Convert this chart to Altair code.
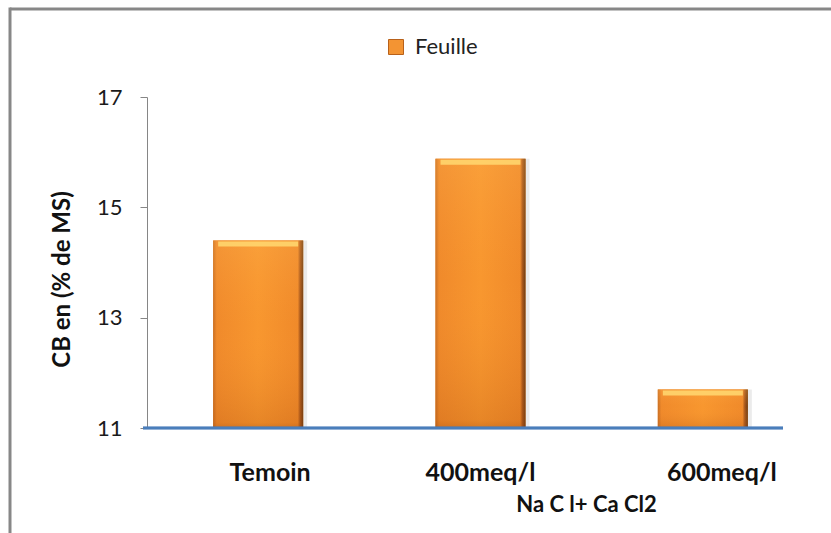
import altair as alt
import pandas as pd

# Crude fibre content of leaves under NaCl + CaCl2 treatments
categories = ["Temoin", "400meq/l", "600meq/l"]
feuille = [14.4, 15.88, 11.7]
y_ticks = [11, 13, 15, 17]
series_name = "Feuille"
y_title = "CB en (% de MS)"
x_title = "Na C l+ Ca Cl2"

df = pd.DataFrame({
    "traitement": categories,
    "cb": feuille,
    "organe": [series_name] * len(categories),
})

FONT = "Lato"

x_enc = alt.X(
    "traitement:N",
    sort=categories,
    scale=alt.Scale(paddingInner=0.595, paddingOuter=0.2975),
    axis=alt.Axis(
        title=x_title,
        domain=False,
        ticks=False,
        labelAngle=0,
        labelFont=FONT,
        labelFontSize=25,
        labelFontWeight="bold",
        labelColor="#111111",
        labelPadding=32,
        labelOffset={
            "condition": [
                {"test": "datum.value === 'Temoin'", "value": 12},
                {"test": "datum.value === '600meq/l'", "value": 19},
            ],
            "value": 0,
        },
        titleFont=FONT,
        titleFontSize=22,
        titleFontWeight="bold",
        titleColor="#111111",
        titleX=439,
        titleY=83,
        titleAlign="center",
        titleBaseline="alphabetic",
    ),
)

y_scale = alt.Scale(domain=[11, 17], nice=False, zero=False)
y_enc = alt.Y(
    "cb:Q",
    scale=y_scale,
    axis=alt.Axis(
        title=y_title,
        values=y_ticks,
        format="d",
        grid=False,
        domainColor="#868686",
        tickColor="#868686",
        tickSize=7,
        labelFont=FONT,
        labelFontSize=22,
        labelColor="#1a1a1a",
        labelPadding=18,
        titleFont=FONT,
        titleFontSize=24,
        titleFontWeight="bold",
        titleColor="#111111",
        titleAngle=270,
        titleX=-85,
        titleY=182,
        titleAlign="center",
        titleBaseline="middle",
    ),
)

base = alt.Chart(df)

# soft drop shadow on the right side of each bar
shadow = base.mark_bar(color="#000000", opacity=0.08, xOffset=4).encode(
    x=x_enc, y=y_enc, y2=alt.datum(11)
)

# flat orange bar, carries the legend
body = base.mark_bar().encode(
    x=x_enc,
    y=y_enc,
    y2=alt.datum(11),
    color=alt.Color(
        "organe:N",
        scale=alt.Scale(range=["#F39433"]),
        legend=alt.Legend(
            title=None,
            orient="none",
            legendX=238,
            legendY=-61,
            padding=0,
            symbolType="square",
            symbolSize=225,
            symbolStrokeColor="#B8611A",
            symbolStrokeWidth=1,
            labelFont=FONT,
            labelFontSize=22,
            labelColor="#222222",
            labelOffset=8,
        ),
    ),
)

# side bevels: lighter left edge, dark brown right edge
sides = base.mark_bar(
    color=alt.Gradient(
        gradient="linear",
        x1=0, x2=1, y1=0, y2=0,
        stops=[
            alt.GradientStop(offset=0, color="#C86E24"),
            alt.GradientStop(offset=0.04, color="#F08A2B"),
            alt.GradientStop(offset=0.5, color="#F8972F"),
            alt.GradientStop(offset=0.94, color="#F08A2A"),
            alt.GradientStop(offset=0.965, color="#A9581C"),
            alt.GradientStop(offset=1, color="#6B3A12"),
        ],
    )
).encode(x=x_enc, y=y_enc, y2=alt.datum(11))

# vertical shading: lighter at the top, darker towards the base
shade = base.mark_bar(
    color=alt.Gradient(
        gradient="linear",
        x1=0, x2=0, y1=0, y2=1,
        stops=[
            alt.GradientStop(offset=0, color="rgba(255,185,90,0.25)"),
            alt.GradientStop(offset=0.45, color="rgba(255,160,60,0)"),
            alt.GradientStop(offset=0.97, color="rgba(170,75,10,0.22)"),
            alt.GradientStop(offset=1, color="rgba(150,65,10,0.35)"),
        ],
    )
).encode(x=x_enc, y=y_enc, y2=alt.datum(11))

# glossy top bevel
top_bevel = base.mark_tick(
    thickness=5,
    size=80,
    yOffset=3.5,
    color="#FFD56E",
    opacity=0.9,
).encode(x=x_enc, y=y_enc)

# blue category baseline at the bottom of the value axis
baseline = base.mark_rule(color="#4A7EBB", strokeWidth=2.5).encode(
    x=alt.value(-4), x2=alt.value(636), y=alt.datum(11)
)

frame_df = pd.DataFrame({"k": [0]})
frame_top = alt.Chart(frame_df).mark_rule(color="#878787", strokeWidth=3).encode(
    x=alt.value(-137), x2=alt.value(700), y=alt.value(-88)
)
frame_left = alt.Chart(frame_df).mark_rule(color="#878787", strokeWidth=3).encode(
    x=alt.value(-137), y=alt.value(-89.5), y2=alt.value(460)
)

chart = (
    alt.layer(shadow, body, sides, shade, top_bevel, baseline, frame_top, frame_left)
    .properties(
        width=667,
        height=331,
        autosize=alt.AutoSizeParams(type="none"),
        padding={"left": 147, "top": 97, "right": 17, "bottom": 105},
        background="white",
    )
    .configure_view(stroke=None)
)

chart.save("out.html", embed_options={"renderer": "svg", "actions": False})
